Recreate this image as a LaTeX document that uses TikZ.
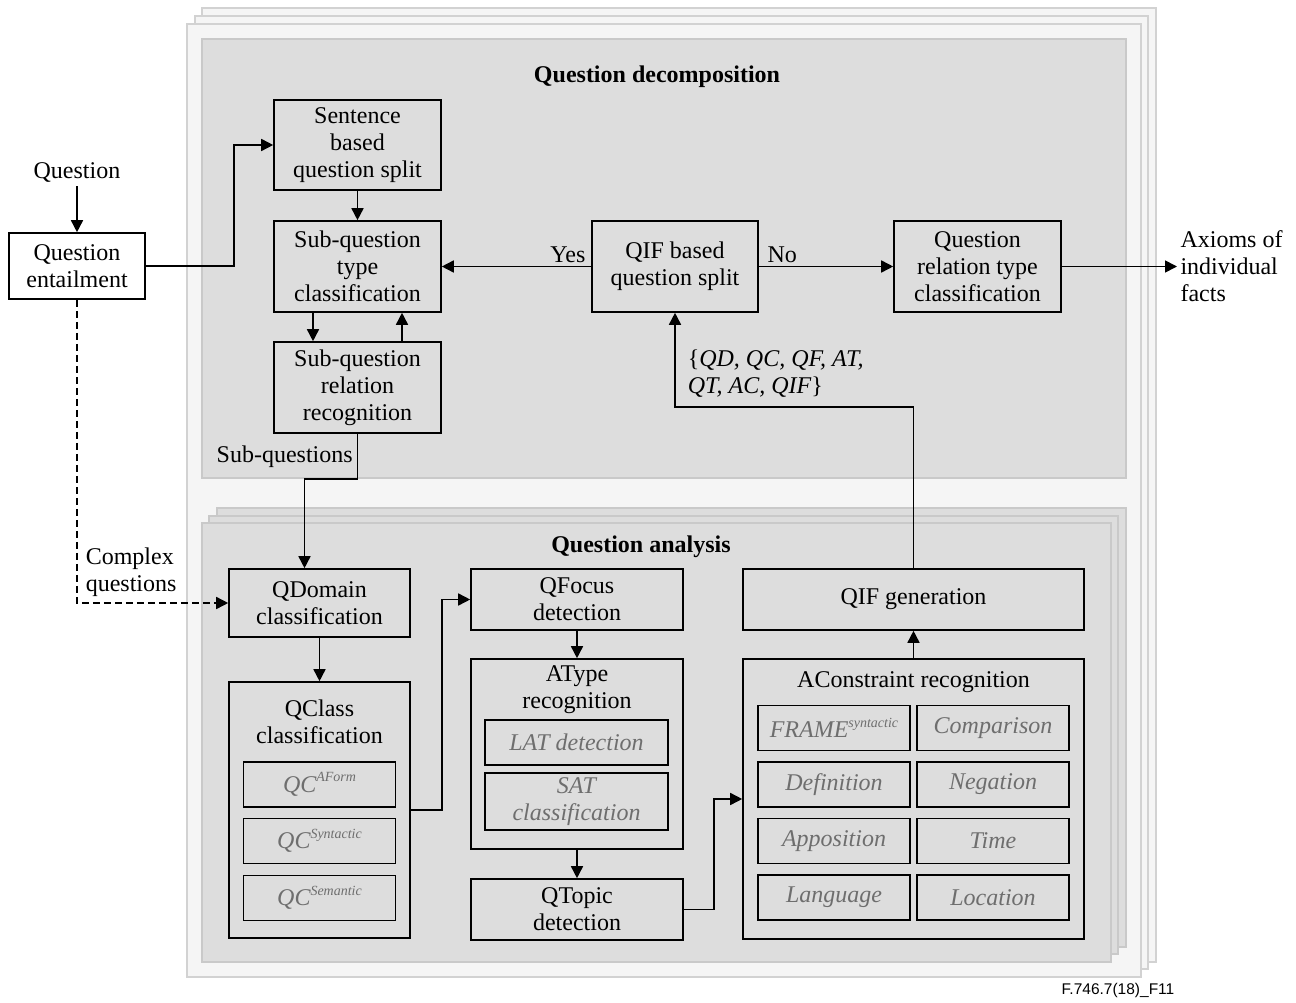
\documentclass[tikz,border=0pt]{standalone}
\usepackage{fontspec}
\setmainfont{Liberation Serif}
\newfontfamily\figlabelfont{Liberation Sans}
\usetikzlibrary{arrows.meta}
\definecolor{pagefill}{HTML}{F5F5F5}
\definecolor{pageline}{HTML}{D2D2D2}
\definecolor{panelfill}{HTML}{DDDDDD}
\definecolor{panelline}{HTML}{C9C9C9}
\definecolor{subtext}{HTML}{6E6E6E}
\newcommand\mysup[1]{\raisebox{0.95ex}{\fontsize{14}{14}\selectfont #1}}
\begin{document}
\begin{tikzpicture}[x=1pt,y=-1pt,
  every node/.style={font=\fontsize{24}{27}\selectfont},
  page/.style={fill=pagefill,draw=pageline,line width=1.5pt},
  panel/.style={fill=panelfill,draw=panelline,line width=1.5pt},
  box/.style={draw=black,fill=panelfill,line width=1.6pt,align=center,inner sep=1pt},
  subbox/.style={draw=black,fill=panelfill,line width=1.8pt,align=center,inner sep=1pt,text=subtext,font=\fontsize{24}{27}\selectfont\itshape,minimum width=152pt,minimum height=45pt},
  conn/.style={line width=1.6pt,-{Triangle[length=12pt,width=12pt]}},
  title/.style={font=\fontsize{24}{27}\selectfont\bfseries}]
\useasboundingbox (0,0) rectangle (1296,1003);
% stacked pages
\path[page] (202,8) rectangle (1156,962);
\path[page] (195,16) rectangle (1148,969);
\path[page] (187,24) rectangle (1141,977);
% panels
\path[panel] (202,39) rectangle (1126,478);
\path[panel] (217,508) rectangle (1126,947);
\path[panel] (209,516) rectangle (1118,954);
\path[panel] (202,523) rectangle (1111,962);

\node[title] (tdec) at (657,77) {Question decomposition};
\node[title] (tana) at (641,547) {Question analysis};

% decomposition nodes
\node (question) at (77,173) {Question};
\node[box,fill=white,minimum width=136pt,minimum height=66pt] (qent) at (77,266) {Question\\entailment};
\node[box,minimum width=167pt,minimum height=90pt] (sent) at (357.5,145) {Sentence\\based\\question split};
\node[box,minimum width=167pt,minimum height=91pt] (sqtype) at (357.5,266.5) {Sub-question\\type\\classification};
\node[box,minimum width=167pt,minimum height=91pt] (sqrel) at (357.5,387.5) {Sub-question\\relation\\recognition};
\node[box,minimum width=166pt,minimum height=91pt] (qifs) at (675,266.5) {QIF based\\question split};
\node[box,minimum width=167pt,minimum height=91pt] (qrel) at (977.5,266.5) {Question\\relation type\\classification};
\node[anchor=west,align=left] (axioms) at (1177,266.5) {Axioms of\\individual\\facts};

% analysis nodes
\node[box,minimum width=181pt,minimum height=68pt] (qdom) at (319.5,603) {QDomain\\classification};
\node[box,minimum width=181pt,minimum height=256pt] (qclass) at (319.5,810) {};
\node[align=center] (qclassT) at (319.5,722) {QClass\\classification};
\node[subbox] (qc1) at (319.5,784.5) {QC\mysup{AForm}};
\node[subbox] (qc2) at (319.5,841) {QC\mysup{Syntactic}};
\node[subbox] (qc3) at (319.5,898) {QC\mysup{Semantic}};

\node[box,minimum width=212pt,minimum height=61pt] (qfoc) at (577,599.5) {QFocus\\detection};
\node[box,minimum width=212pt,minimum height=190pt] (atype) at (577,754) {};
\node[align=center] (atypeT) at (577,690) {AType\\recognition};
\node[subbox,minimum width=183pt] (lat) at (576.5,742.5) {LAT detection};
\node[subbox,minimum width=183pt,minimum height=57pt] (sat) at (576.5,801.5) {SAT\\classification};
\node[box,minimum width=212pt,minimum height=61pt] (qtop) at (577,909.5) {QTopic\\detection};

\node[box,minimum width=341pt,minimum height=61pt] (qifg) at (913.5,599.5) {QIF generation};
\node[box,minimum width=341pt,minimum height=280pt] (acon) at (913.5,799) {};
\node (aconT) at (913.5,682) {AConstraint recognition};
\node[subbox] (g11) at (834,728) {FRAME\mysup{syntactic}};
\node[subbox] (g12) at (993,728) {Comparison};
\node[subbox] (g21) at (834,784.5) {Definition};
\node[subbox] (g22) at (993,784.5) {Negation};
\node[subbox] (g31) at (834,841) {Apposition};
\node[subbox] (g32) at (993,841) {Time};
\node[subbox] (g41) at (834,897.5) {Language};
\node[subbox] (g42) at (993,897.5) {Location};

\node[font=\figlabelfont\fontsize{15.5}{18}\selectfont] (fig) at (1118,990) {F.746.7(18)\_F11};

% connectors
\draw[conn] (question.south) -- (qent.north);
\draw[conn] (qent.east) -- ++(88,0) |- (sent.west);
\draw[conn] (sent.south) -- (sqtype.north);
\draw[conn] ([xshift=-44.5pt]sqtype.south) -- ([xshift=-44.5pt]sqrel.north);
\draw[conn] ([xshift=44.5pt]sqrel.north) -- ([xshift=44.5pt]sqtype.south);
\draw[conn] (qifs.west) -- node[pos=0,anchor=south east,inner sep=3pt,xshift=-2pt]{Yes} (sqtype.east);
\draw[conn] (qifs.east) -- node[pos=0,anchor=south west,inner sep=3pt,xshift=5pt]{No} (qrel.west);
\draw[conn] (qrel.east) -- (axioms.west);
\draw[conn] (sqrel.south) -- node[pos=0.5,anchor=east,inner sep=4pt]{Sub-questions} ++(0,45) -| ([xshift=-15pt]qdom.north);
\draw[conn,dash pattern=on 7pt off 4pt] (qent.south) |- node[pos=0.5,anchor=south west,align=left,inner sep=3pt,xshift=5pt,yshift=3pt]{Complex\\questions} (qdom.west);
\draw[conn] (qdom.south) -- (qclass.north);
\draw[conn] (qclass.east) -- ++(31,0) |- (qfoc.west);
\draw[conn] (qfoc.south) -- (atype.north);
\draw[conn] (atype.south) -- (qtop.north);
\draw[conn] (qtop.east) -- ++(30,0) |- (acon.west);
\draw[conn] (acon.north) -- (qifg.south);
\draw[conn] (qifg.north) -- ++(0,-161) -| node[pos=0.68,anchor=west,align=left,inner sep=3pt,xshift=9pt]{\{{\itshape QD, QC, QF, AT,}\\{\itshape QT, AC, QIF}\}} (qifs.south);
\end{tikzpicture}
\end{document}
